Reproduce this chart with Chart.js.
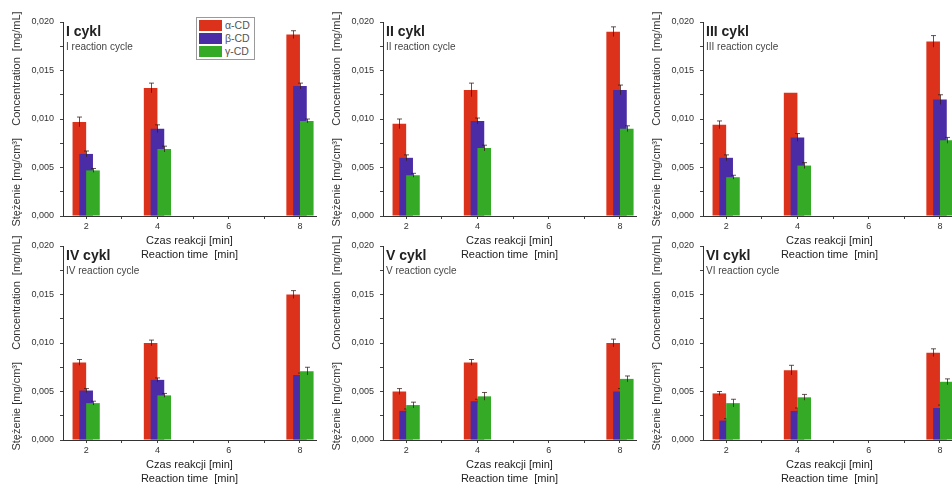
<!DOCTYPE html>
<html>
<head>
<meta charset="utf-8">
<script src="https://cdn.jsdelivr.net/npm/chart.js@4"></script>
<style>
    body { margin: 0; width: 952px; height: 484px; overflow: hidden; background: #fff; position: relative; font-family: Arial, "Liberation Sans", sans-serif; }
    .panel { position: absolute; width: 320px; height: 262px; }
    .legend { position: absolute; left: 196px; top: 17px; width: 57px; border: 1px solid #9a9a9a; background: #fff; padding: 1px 0; z-index: 5; }
    .legend div { height: 13px; line-height: 13px; font-size: 10.5px; color: #555; white-space: nowrap; }
    .legend span { display: inline-block; width: 23px; height: 11px; margin: 1px 3px 0 2px; vertical-align: top; }
</style>
</head>
<body>
<div class="legend">
    <div><span style="background:#dc321c"></span>α-CD</div>
    <div><span style="background:#4a2ca6"></span>β-CD</div>
    <div><span style="background:#34aa26"></span>γ-CD</div>
</div>
<script>
// Reaction times (x axis) and cycle labels
const times = [2, 4, 8];
const cycles = ['I', 'II', 'III', 'IV', 'V', 'VI'];
const seriesNames = ['α-CD', 'β-CD', 'γ-CD'];
const seriesColors = ['#dc321c', '#4a2ca6', '#34aa26'];

// Concentration per cycle (rows) at 2, 4, 8 min
const alphaCD = [
    [0.0097, 0.0132, 0.0187],
    [0.0095, 0.0130, 0.0190],
    [0.0094, 0.0127, 0.0180],
    [0.0080, 0.0100, 0.0150],
    [0.0050, 0.0080, 0.0100],
    [0.0048, 0.0072, 0.0090]
];
const betaCD = [
    [0.0064, 0.0090, 0.0134],
    [0.0060, 0.0098, 0.0130],
    [0.0060, 0.0081, 0.0120],
    [0.0051, 0.0062, 0.0067],
    [0.0030, 0.0040, 0.0050],
    [0.0020, 0.0030, 0.0033]
];
const gammaCD = [
    [0.0047, 0.0069, 0.0098],
    [0.0042, 0.0070, 0.0090],
    [0.0040, 0.0052, 0.0078],
    [0.0038, 0.0046, 0.0071],
    [0.0036, 0.0045, 0.0063],
    [0.0038, 0.0044, 0.0060]
];

// error bars (same layout)
const alphaErr = [
    [0.0005, 0.0005, 0.0004],
    [0.0005, 0.0007, 0.0005],
    [0.0004, 0.0000, 0.0006],
    [0.0003, 0.0003, 0.0004],
    [0.0003, 0.0003, 0.0004],
    [0.0002, 0.0005, 0.0004]
];
const betaErr = [
    [0.0003, 0.0004, 0.0003],
    [0.0003, 0.0003, 0.0005],
    [0.0003, 0.0004, 0.0005],
    [0.0002, 0.0002, 0.0002],
    [0.0002, 0.0002, 0.0003],
    [0.0002, 0.0003, 0.0003]
];
const gammaErr = [
    [0.0002, 0.0003, 0.0002],
    [0.0002, 0.0003, 0.0003],
    [0.0002, 0.0003, 0.0003],
    [0.0002, 0.0002, 0.0004],
    [0.0003, 0.0004, 0.0003],
    [0.0004, 0.0003, 0.0003]
];

const FONT = 'Arial, "Liberation Sans", sans-serif';

// Draw bars in dataset order (gamma on top, like Origin does) plus error whiskers
const barsAndErrors = {
    id: 'barsAndErrors',
    beforeDatasetsDraw(chart) {
        const ctx = chart.ctx;
        const yScale = chart.scales.y;
        const metas = chart.getSortedVisibleDatasetMetas().slice().sort((a, b) => a.index - b.index);
        metas.forEach(meta => {
            meta.controller.draw();
            const ds = chart.data.datasets[meta.index];
            ctx.save();
            ctx.strokeStyle = 'rgba(50,25,20,0.75)';
            ctx.lineWidth = 1;
            meta.data.forEach((bar, i) => {
                const e = ds.errors[i];
                if (!e) return;
                const v = ds.data[i].y;
                const x = Math.round(bar.x) + 0.5;
                const top = yScale.getPixelForValue(v + e);
                const low = yScale.getPixelForValue(v - e);
                ctx.beginPath();
                ctx.moveTo(x, low);
                ctx.lineTo(x, top);
                ctx.moveTo(x - 2.5, top);
                ctx.lineTo(x + 2.5, top);
                ctx.stroke();
            });
            ctx.restore();
        });
        return false;
    }
};

// "I cykl" / "I reaction cycle" inside the plot area
const panelTitle = {
    id: 'panelTitle',
    afterDraw(chart, args, opts) {
        const {ctx, chartArea} = chart;
        ctx.save();
        ctx.textBaseline = 'middle';
        ctx.fillStyle = '#222';
        ctx.font = 'bold 14px ' + FONT;
        ctx.fillText(opts.title, chartArea.left + 3, chartArea.top + 10);
        ctx.fillStyle = '#444';
        ctx.font = '10px ' + FONT;
        ctx.fillText(opts.sub, chartArea.left + 3, chartArea.top + 25);
        ctx.restore();
    }
};

function makePanel(idx) {
    const col = idx % 3;
    const row = Math.floor(idx / 3);
    const box = document.createElement('div');
    box.className = 'panel';
    box.style.left = (col * 320) + 'px';
    box.style.top = (row * 224) + 'px';
    const canvas = document.createElement('canvas');
    canvas.width = 320;
    canvas.height = 262;
    box.appendChild(canvas);
    document.body.appendChild(box);

    const values = [alphaCD[idx], betaCD[idx], gammaCD[idx]];
    const errors = [alphaErr[idx], betaErr[idx], gammaErr[idx]];

    const datasets = seriesNames.map((name, s) => ({
        label: name,
        data: times.map((t, i) => ({ x: t, y: values[s][i] })),
        errors: errors[s],
        backgroundColor: seriesColors[s],
        borderWidth: 0,
        categoryPercentage: 0.573,
        barPercentage: 2
    }));

    new Chart(canvas, {
        type: 'bar',
        data: { datasets: datasets },
        options: {
            responsive: false,
            animation: false,
            layout: { padding: { top: 22, right: 4, left: 0, bottom: 0 } },
            plugins: {
                legend: { display: false },
                tooltip: { enabled: false },
                panelTitle: { title: cycles[idx] + ' cykl', sub: cycles[idx] + ' reaction cycle' }
            },
            scales: {
                x: {
                    type: 'linear',
                    offset: false,
                    min: 1.35,
                    max: 8.45,
                    afterFit: s => { s.height = 46; },
                    grid: { drawOnChartArea: false, offset: false, tickLength: 3, color: '#444' },
                    border: { color: '#333', width: 1 },
                    ticks: {
                        stepSize: 1,
                        includeBounds: false,
                        autoSkip: false,
                        maxRotation: 0,
                        padding: 2,
                        color: '#333',
                        font: { family: FONT, size: 9 },
                        callback: v => (v % 2 === 0 ? String(v) : '')
                    },
                    title: {
                        display: true,
                        text: ['Czas reakcji [min]', 'Reaction time  [min]'],
                        color: '#222',
                        font: { family: FONT, size: 11, lineHeight: 14 / 11 },
                        padding: { top: 0, bottom: 0 }
                    }
                },
                y: {
                    min: 0,
                    max: 0.02,
                    afterFit: s => { s.width = 63; },
                    grid: { drawOnChartArea: false, tickLength: 3, color: '#444' },
                    border: { color: '#333', width: 1 },
                    ticks: {
                        stepSize: 0.0025,
                        autoSkip: false,
                        padding: 6,
                        color: '#333',
                        font: { family: FONT, size: 9 },
                        callback: v => (Math.round(v / 0.0025) % 2 === 0 ? v.toFixed(3).replace('.', ',') : '')
                    },
                    title: {
                        display: true,
                        text: 'Stężenie [mg/cm³]    Concentration  [mg/mL]',
                        color: '#333',
                        font: { family: FONT, size: 11 },
                        padding: { top: 10, bottom: 0 }
                    }
                }
            }
        },
        plugins: [barsAndErrors, panelTitle]
    });
}

cycles.forEach((c, i) => makePanel(i));
</script>
</body>
</html>
